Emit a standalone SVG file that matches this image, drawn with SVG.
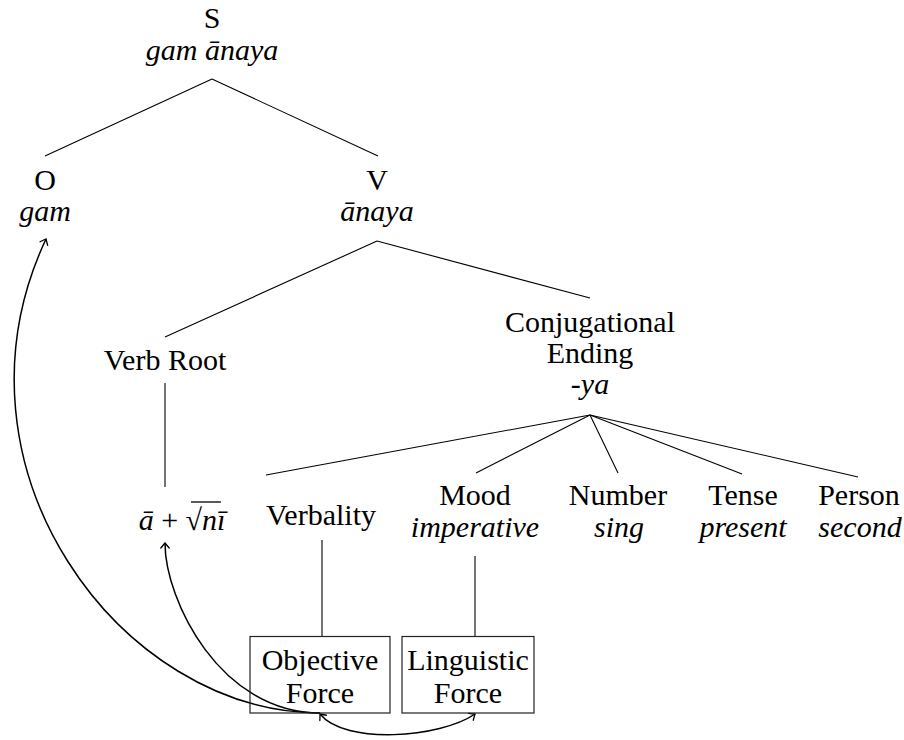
<svg xmlns="http://www.w3.org/2000/svg" width="904" height="740" viewBox="0 0 904 740">
  <defs>
    <style>
      .t { font-family: "Liberation Serif", "Times New Roman", serif; font-size: 30px; fill: #000; text-anchor: middle; }
      .i { font-style: italic; }
      .edge { stroke: #000; stroke-width: 1.1; fill: none; }
      .box { stroke: #222; stroke-width: 1.2; fill: none; }
      .arc { stroke: #000; stroke-width: 1.5; fill: none; }
    </style>
    <marker id="tip" markerUnits="userSpaceOnUse" markerWidth="14" markerHeight="14" viewBox="-8 -7 10 14" refX="0" refY="0" orient="auto-start-reverse">
      <path d="M-5,-4.2 Q-1.5,-1.2 0,0 Q-1.5,1.2 -5,4.2" fill="none" stroke="#000" stroke-width="1.3" stroke-linecap="round"/>
    </marker>
  </defs>

  <rect width="904" height="740" fill="#fff"/>

  <!-- tree edges and links -->
  <g id="connectors">
    <line class="edge" x1="212" y1="79" x2="45" y2="156"/>
    <line class="edge" x1="212" y1="79" x2="378" y2="156"/>
    <line class="edge" x1="377" y1="241" x2="165" y2="337"/>
    <line class="edge" x1="377" y1="241" x2="590" y2="298"/>
    <line class="edge" x1="165" y1="383" x2="165" y2="487"/>
    <line class="edge" x1="590" y1="415" x2="266" y2="475"/>
    <line class="edge" x1="590" y1="415" x2="476" y2="473"/>
    <line class="edge" x1="590" y1="415" x2="618" y2="473"/>
    <line class="edge" x1="590" y1="415" x2="742" y2="474"/>
    <line class="edge" x1="590" y1="415" x2="858" y2="477"/>
    <line class="edge" x1="322" y1="540" x2="322" y2="636"/>
    <line class="edge" x1="475" y1="556" x2="475" y2="636"/>

    <!-- force links -->
    <path class="arc" d="M320,713 C120,713 -61,467 46,239" marker-end="url(#tip)"/>
    <path class="arc" d="M320,713 C220,713 165,600 165,543" marker-end="url(#tip)"/>
    <path class="arc" d="M320,714 C345,745 440,738 475,714" marker-start="url(#tip)" marker-end="url(#tip)"/>
  </g>

  <g id="node-S">
    <text class="t" x="212" y="28">S</text>
    <text class="t i" x="212" y="60">gam  ānaya</text>
  </g>

  <g id="node-O">
    <text class="t" x="45" y="190">O</text>
    <text class="t i" x="45" y="221">gam</text>
  </g>

  <g id="node-V">
    <text class="t" x="377" y="190">V</text>
    <text class="t i" x="377" y="221">ānaya</text>
  </g>

  <g id="node-verb-root">
    <text class="t" x="165" y="370">Verb Root</text>
  </g>

  <g id="node-conjugational-ending">
    <text class="t" x="590" y="332">Conjugational</text>
    <text class="t" x="590" y="363">Ending</text>
    <text class="t" x="590" y="394">-<tspan class="i">ya</tspan></text>
  </g>

  <g id="node-root-form">
    <text class="t" x="182" y="530"><tspan class="i">ā</tspan> + √<tspan class="i">nī</tspan></text>
    <line x1="191" y1="502" x2="221" y2="502" stroke="#000" stroke-width="1.3"/>
  </g>

  <g id="node-verbality">
    <text class="t" x="321" y="525">Verbality</text>
  </g>

  <g id="node-mood">
    <text class="t" x="475" y="505">Mood</text>
    <text class="t i" x="475" y="537">imperative</text>
  </g>

  <g id="node-number">
    <text class="t" x="618" y="505">Number</text>
    <text class="t i" x="619" y="537">sing</text>
  </g>

  <g id="node-tense">
    <text class="t" x="743" y="505">Tense</text>
    <text class="t i" x="743" y="537">present</text>
  </g>

  <g id="node-person">
    <text class="t" x="859" y="505">Person</text>
    <text class="t i" x="860" y="537">second</text>
  </g>

  <g id="node-objective-force">
    <rect class="box" x="250" y="636.5" width="140" height="76.5"/>
    <text class="t" x="320" y="670">Objective</text>
    <text class="t" x="320" y="703">Force</text>
  </g>

  <g id="node-linguistic-force">
    <rect class="box" x="402" y="636.5" width="132" height="76.5"/>
    <text class="t" x="468" y="670">Linguistic</text>
    <text class="t" x="468" y="703">Force</text>
  </g>
</svg>
